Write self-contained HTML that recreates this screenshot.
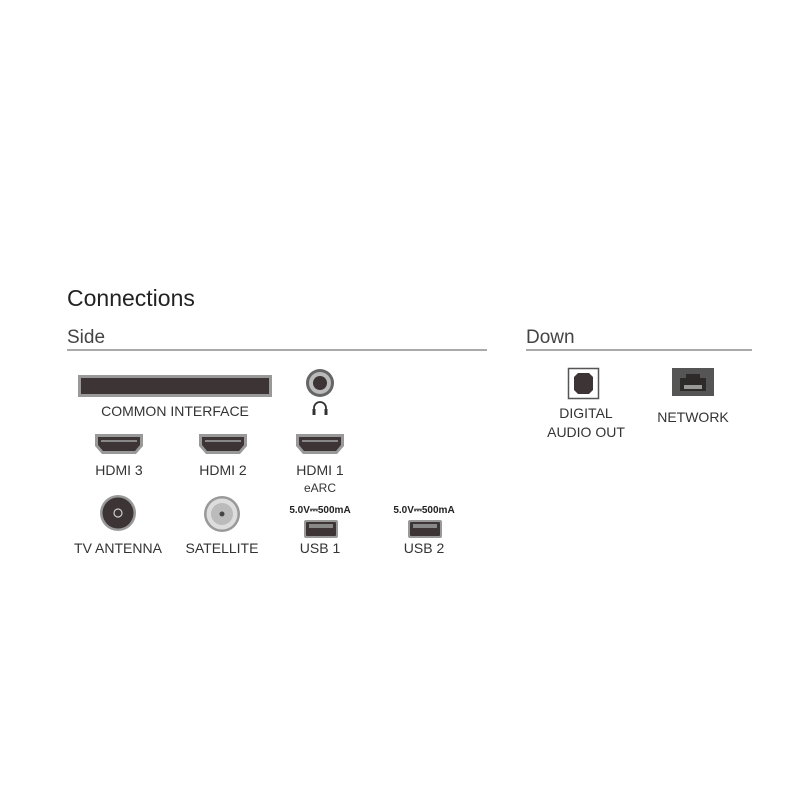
<!DOCTYPE html>
<html><head><style>body{margin:0;background:#fff}svg{display:block}</style></head><body>
<svg width="800" height="800" viewBox="0 0 800 800" xmlns="http://www.w3.org/2000/svg" font-family="Liberation Sans, sans-serif" fill="#333">
<text x="67" y="306" font-size="23" fill="#222">Connections</text>
<text x="67" y="343" font-size="19" fill="#444">Side</text>
<text x="526" y="343" font-size="19" fill="#444">Down</text>
<line x1="67" y1="350" x2="487" y2="350" stroke="#777" stroke-width="1.3"/>
<line x1="526" y1="350" x2="752" y2="350" stroke="#777" stroke-width="1.3"/>
<rect x="78" y="375" width="194" height="22" fill="#999"/>
<rect x="81" y="378" width="188" height="16" fill="#3d3535"/>
<text x="175" y="416" font-size="14" text-anchor="middle">COMMON INTERFACE</text>
<circle cx="320" cy="383" r="14" fill="#666"/>
<circle cx="320" cy="383" r="11" fill="#bbb"/>
<circle cx="320" cy="383" r="7" fill="#3d3535"/>
<path d="M314 414 v-6 a6 6 0 0 1 12 0 v6" fill="none" stroke="#333" stroke-width="1.8"/>
<rect x="312.5" y="409" width="3" height="6" fill="#333"/><rect x="324.5" y="409" width="3" height="6" fill="#333"/>
<g id="h"><path d="M95 434 h48 v12 l-7 8 h-34 l-7 -8z" fill="#999"/><path d="M98 437 h42 v8 l-5 6 h-32 l-5 -6z" fill="#3d3535"/><rect x="101" y="440" width="36" height="2" fill="#888"/></g>
<use href="#h" x="104"/><use href="#h" x="201"/>
<text x="119" y="475" font-size="14" text-anchor="middle">HDMI 3</text>
<text x="223" y="475" font-size="14" text-anchor="middle">HDMI 2</text>
<text x="320" y="475" font-size="14" text-anchor="middle">HDMI 1</text>
<text x="320" y="492" font-size="12" text-anchor="middle">eARC</text>
<circle cx="118" cy="513" r="18" fill="#999"/><circle cx="118" cy="513" r="15.5" fill="#3d3535"/>
<circle cx="118" cy="513" r="4" fill="none" stroke="#ccc" stroke-width="1.2"/>
<circle cx="222" cy="514" r="18" fill="#999"/><circle cx="222" cy="514" r="15.5" fill="#ddd"/><circle cx="222" cy="514" r="11" fill="#bbb"/><circle cx="222" cy="514" r="2.5" fill="#444"/>
<text x="118" y="553" font-size="14" text-anchor="middle">TV ANTENNA</text>
<text x="222" y="553" font-size="14" text-anchor="middle">SATELLITE</text>
<text x="320" y="513" font-size="10" font-weight="bold" text-anchor="middle" fill="#222">5.0V⎓500mA</text>
<text x="424" y="513" font-size="10" font-weight="bold" text-anchor="middle" fill="#222">5.0V⎓500mA</text>
<g id="u"><rect x="304" y="520" width="34" height="18" rx="2" fill="#999"/><rect x="306" y="522" width="30" height="14" rx="1" fill="#3d3535"/><rect x="309" y="524" width="24" height="4" fill="#888"/></g>
<use href="#u" x="104"/>
<text x="320" y="553" font-size="14" text-anchor="middle">USB 1</text>
<text x="424" y="553" font-size="14" text-anchor="middle">USB 2</text>
<rect x="568.5" y="368.5" width="30" height="30" fill="#fff" stroke="#555" stroke-width="1.5"/>
<path d="M578 373 h11 l4 4 v13 l-4 4 h-11 l-4 -4 v-13z" fill="#3d3535"/>
<text x="586" y="418" font-size="14" text-anchor="middle">DIGITAL</text>
<text x="586" y="437" font-size="14" text-anchor="middle">AUDIO OUT</text>
<rect x="672" y="368" width="42" height="28" fill="#555"/>
<path d="M680 391 v-13 h6 v-4 h14 v4 h6 v13z" fill="#2e2a2a"/>
<rect x="684" y="385" width="18" height="4" fill="#999"/>
<text x="693" y="422" font-size="14" text-anchor="middle">NETWORK</text>
</svg>
</body></html>
